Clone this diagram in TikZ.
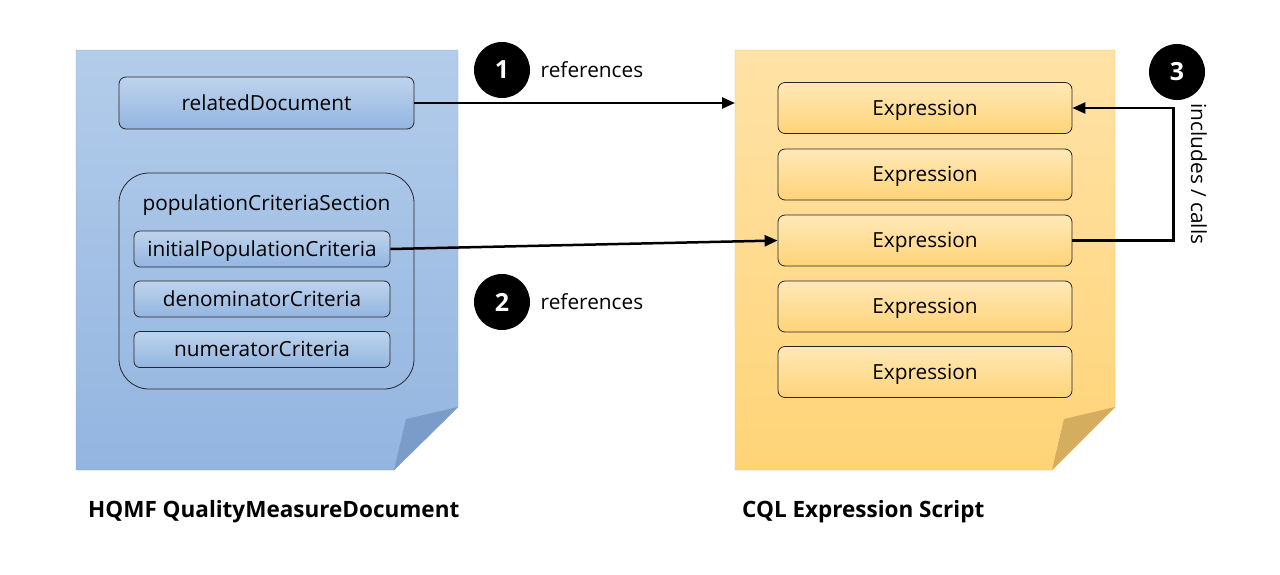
\documentclass[tikz,border=0pt]{standalone}
\usepackage{fontspec}
\setmainfont{Open Sans}
\usetikzlibrary{positioning,arrows.meta}

\definecolor{hqmfTop}{HTML}{B3CCEA}
\definecolor{hqmfBot}{HTML}{93B5E0}
\definecolor{hqmfEdge}{HTML}{8AAEDC}
\definecolor{hqmfFold}{HTML}{7B9CC8}
\definecolor{cqlTop}{HTML}{FFE2A6}
\definecolor{cqlBot}{HTML}{FFD478}
\definecolor{cqlEdge}{HTML}{F2C232}
\definecolor{cqlFold}{HTML}{D5AD5F}

\begin{document}
\begin{tikzpicture}[x=1pt, y=1pt, >={Triangle[length=13pt,width=11pt]},
  txt/.style={font=\fontsize{20.8}{24}\selectfont, text height=19pt, text depth=5pt},
  bluebox/.style={txt, draw=black!85, line width=0.8pt, rounded corners=7pt,
    top color=hqmfTop!85!white, bottom color=hqmfBot, inner sep=0pt},
  critbox/.style={bluebox, rounded corners=6pt, minimum width=256pt, minimum height=36pt},
  exprbox/.style={txt, draw=black!85, line width=0.8pt, rounded corners=7pt,
    top color=cqlTop!80!white, bottom color=cqlBot, inner sep=0pt,
    minimum width=294pt, minimum height=51pt},
  badge/.style={circle, fill=black, text=white, inner sep=0pt, minimum size=56pt,
    font=\fontsize{25}{28}\selectfont\bfseries},
  flow/.style={->, line width=2.5pt},
  caption/.style={font=\fontsize{22.5}{26}\selectfont\bfseries, anchor=west, inner sep=0pt}
]
\useasboundingbox (0,0) rectangle (1280,-574);

%--- HQMF document page ---
\shade[top color=hqmfTop, bottom color=hqmfBot, draw=hqmfEdge]
  (76,-50) -- (458,-50) -- (458,-407) -- (394,-470) -- (76,-470) -- cycle;
\fill[hqmfFold] (458,-407) -- (406,-419) -- (394,-470) -- cycle;

%--- CQL script page ---
\shade[top color=cqlTop, bottom color=cqlBot, draw=cqlEdge]
  (735,-50) -- (1115,-50) -- (1115,-407) -- (1052,-470) -- (735,-470) -- cycle;
\fill[cqlFold] (1115,-407) -- (1064,-419) -- (1052,-470) -- cycle;

%--- left side elements ---
\node[bluebox, minimum width=295pt, minimum height=52pt] (rel) at (266.5,-103) {relatedDocument};

\node[draw=black!85, line width=0.8pt, rounded corners=30pt,
  minimum width=295pt, minimum height=216pt] (pcs) at (266.5,-281) {};
\node[txt] (pcslabel) at (266.5,-203) {populationCriteriaSection};

\node[critbox] (ipc) at (262,-249) {initialPopulationCriteria};
\node[critbox] (den) at (262,-299) {denominatorCriteria};
\node[critbox] (num) at (262,-349.5) {numeratorCriteria};

%--- expressions ---
\foreach \i/\yy in {1/108,2/174.5,3/240.5,4/306.5,5/372}
  \node[exprbox] (e\i) at (925,-\yy) {Expression};

%--- connectors ---
\coordinate (cqlin) at (735,-103);
\draw[flow] (rel.east) -- (cqlin);
\draw[flow] (ipc.east) -- (e3.west);
\draw[flow] (e3.east) -- ++(101,0) |- (e1.east);

%--- numbered badges ---
\node[badge] (b1) at (502,-70) {1};
\node[txt, right=7pt of b1] (r1) {references};
\node[badge] (b2) at (502,-302) {2};
\node[txt, right=7pt of b2] (r2) {references};
\node[badge] (b3) at (1177,-72) {3};
\node[txt, rotate=-90] (calls) at (1198,-174) {includes / calls};

%--- captions ---
\node[caption] (hqmf) at (88,-512) {HQMF QualityMeasureDocument};
\node[caption] (cql) at (742,-512) {CQL Expression Script};

\end{tikzpicture}
\end{document}
